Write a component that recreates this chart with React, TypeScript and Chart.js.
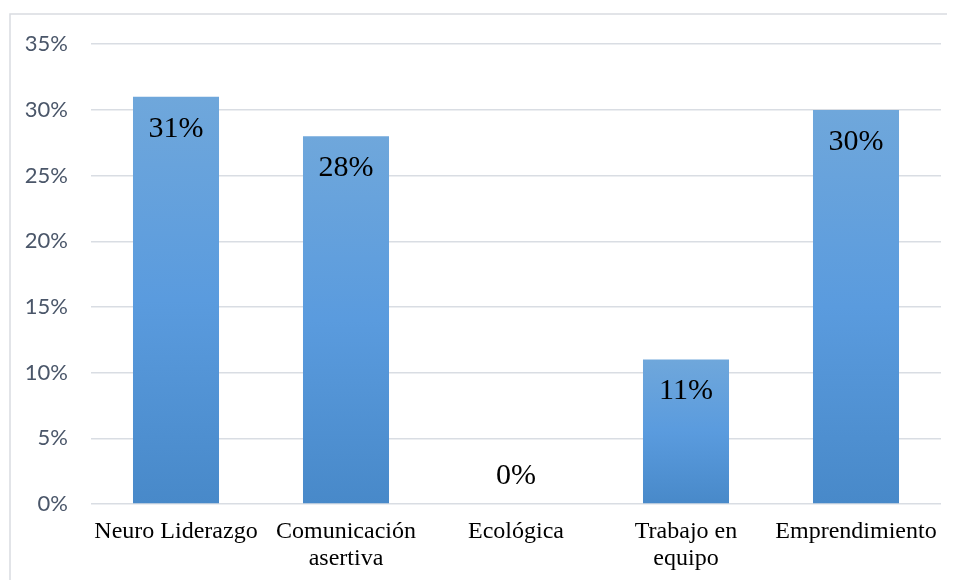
import React, { useEffect, useRef } from "react";
import { Chart, registerables } from "chart.js";

Chart.register(...registerables);

const categories: (string | string[])[] = [
  "Neuro Liderazgo",
  ["Comunicación", "asertiva"],
  "Ecológica",
  ["Trabajo en", "equipo"],
  "Emprendimiento",
];
const values: number[] = [31, 28, 0, 11, 30];
const valueLabels: string[] = ["31%", "28%", "0%", "11%", "30%"];
const yMax = 35;
const yStep = 5;

const framePlugin = {
  id: "frame",
  beforeDraw(chart: any) {
    const ctx = chart.ctx;
    ctx.save();
    ctx.strokeStyle = "#d9dce1";
    ctx.lineWidth = 1.5;
    ctx.beginPath();
    ctx.moveTo(2, chart.height + 10);
    ctx.lineTo(2, 6);
    ctx.lineTo(chart.width + 10, 6);
    ctx.stroke();
    ctx.restore();
  },
};

const labelPlugin = {
  id: "valueLabels",
  afterDatasetsDraw(chart: any) {
    const ctx = chart.ctx;
    const meta = chart.getDatasetMeta(0);
    ctx.save();
    ctx.font = '30px "Liberation Serif", "Times New Roman", serif';
    ctx.fillStyle = "#000000";
    ctx.textAlign = "center";
    ctx.textBaseline = "middle";
    meta.data.forEach((bar: any, i: number) => {
      const v = values[i];
      const y = v > 0 ? bar.y + 32 : bar.base - 28;
      ctx.fillText(valueLabels[i], bar.x, y);
    });
    ctx.restore();
  },
};

export default function App() {
  const ref = useRef<HTMLCanvasElement | null>(null);
  useEffect(() => {
    if (!ref.current) return;
    const chart = new Chart(ref.current, {
      type: "bar",
      data: {
        labels: categories,
        datasets: [
          {
            data: values,
            backgroundColor: (c: any) => {
              const ch = c.chart;
              const ys = ch.scales && ch.scales.y;
              if (!ys || c.dataIndex === undefined) return "#5b9bd5";
              const top = ys.getPixelForValue(values[c.dataIndex]);
              const base = ys.getPixelForValue(0);
              if (!isFinite(top) || !isFinite(base) || top === base) return "#5b9bd5";
              const g = ch.ctx.createLinearGradient(0, top, 0, base);
              g.addColorStop(0, "#6fa7db");
              g.addColorStop(0.5, "#5a9bde");
              g.addColorStop(1, "#4889c9");
              return g;
            },
            borderWidth: 0,
            barPercentage: 0.506,
            categoryPercentage: 1,
          },
        ],
      },
      options: {
        responsive: false,
        animation: false,
        layout: { padding: { left: 0, top: 33.5, right: 14, bottom: 0 } },
        plugins: {
          legend: { display: false },
          tooltip: { enabled: false },
        },
        scales: {
          x: {
            grid: { display: false, drawTicks: false },
            border: { display: false },
            ticks: {
              color: "#000000",
              padding: 14,
              maxRotation: 0,
              autoSkip: false,
              font: { family: '"Liberation Serif", "Times New Roman", serif', size: 24, lineHeight: 1.13 },
            },
            afterFit: (s: any) => {
              s.height = 76;
            },
          },
          y: {
            min: 0,
            max: yMax,
            grid: { color: "#d9dde3", lineWidth: 1.5, drawTicks: false },
            border: { display: false },
            ticks: {
              stepSize: yStep,
              padding: 23,
              color: "#4a5669",
              font: { family: "Lato, 'Open Sans', sans-serif", size: 22 },
              callback: (v: any) => v + "%",
            },
            afterFit: (s: any) => {
              s.width = 83;
            },
          },
        },
      },
      plugins: [framePlugin, labelPlugin],
    });
    return () => chart.destroy();
  }, []);
  return <canvas ref={ref} width={947} height={572} style={{ display: "block" }} />;
}
